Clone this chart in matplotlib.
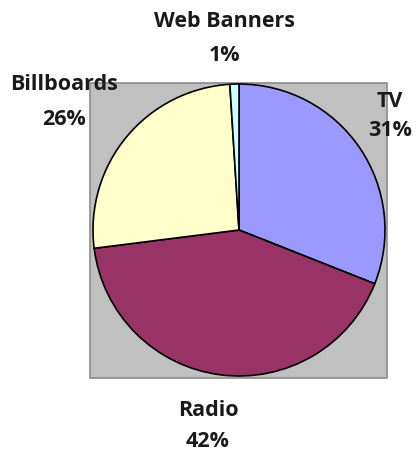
import matplotlib
matplotlib.use("Agg")
import matplotlib.pyplot as plt
from matplotlib.patches import Rectangle

categories = ["TV", "Radio", "Billboards", "Web Banners"]
values = [31, 42, 26, 1]
pct_labels = ["31%", "42%", "26%", "1%"]
colors = ["#9999FF", "#993366", "#FFFFCC", "#CCFFFF"]

W, H = 416, 454
fig = plt.figure(figsize=(W / 100, H / 100), dpi=100)
ax = fig.add_axes([0, 0, 1, 1])

# plot area
ax.add_patch(Rectangle((90, 76), 297, 295, facecolor="#C0C0C0",
                       edgecolor="#8C8C8C", linewidth=1.2, zorder=0))

cx, cy, r = 239, 224, 146
ax.pie(values, colors=colors, startangle=90, counterclock=False,
       center=(cx, cy), radius=r, frame=True,
       wedgeprops=dict(edgecolor="black", linewidth=1.2))
ax.set_xlim(0, W)
ax.set_ylim(0, H)
ax.set_aspect("equal")
ax.axis("off")

# (x center, baseline of name, baseline of percent) in pixel coords from bottom
label_pos = {
    "TV": (390, 347, 318),
    "Radio": (208, 38, 7),
    "Billboards": (64, 364, 329),
    "Web Banners": (225, 427, 393),
}
font = dict(family=["Open Sans", "DejaVu Sans"], fontweight="bold", fontsize=15.5,
            color="#1a1a1a", ha="center", va="baseline")
for cat, pct in zip(categories, pct_labels):
    x, y1, y2 = label_pos[cat]
    ax.text(x, y1, cat, **font)
    ax.text(x, y2, pct, **font)

fig.savefig("out.png", dpi=100)
